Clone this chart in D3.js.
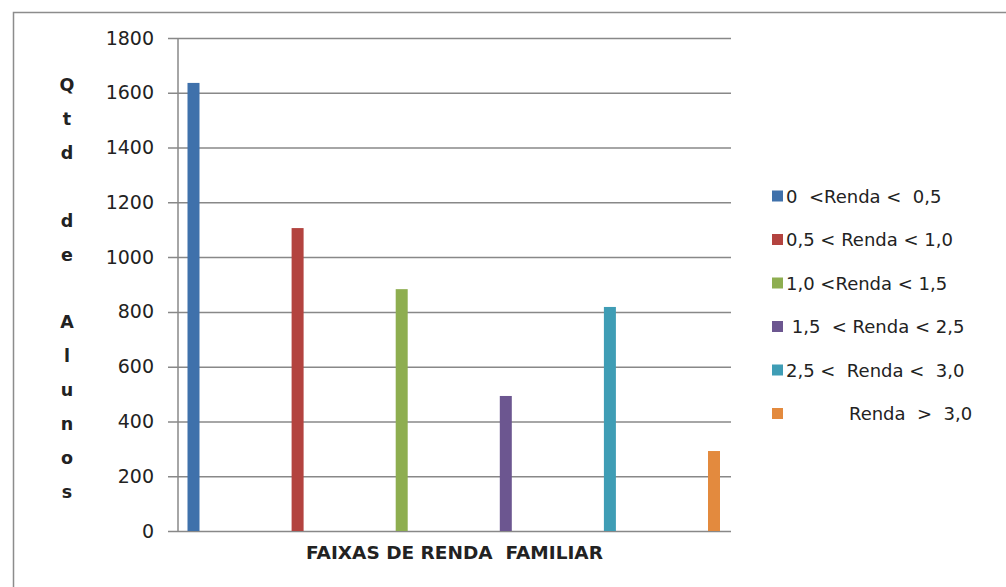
<!DOCTYPE html>
<html lang="pt">
<head>
<meta charset="UTF-8">
<title>Faixas de renda familiar</title>
<script src="https://cdn.jsdelivr.net/npm/d3@7"></script>
<style>
  body { margin: 0; background: #fff; }
  svg text { font-family: "DejaVu Sans", sans-serif; fill: #222; }
</style>
</head>
<body>
<div id="chart"></div>
<script>
// Data
const series = ["0  <Renda <  0,5", "0,5 < Renda < 1,0", "1,0 <Renda < 1,5",
                " 1,5  < Renda < 2,5", "2,5 <  Renda <  3,0", "           Renda  >  3,0"];
const values = [1636, 1106, 883, 493, 818, 292];
const colors = ["#3f71ab", "#b3433f", "#8eae50", "#6c5690", "#3f9db5", "#e38a3e"];
const yTicks = [0, 200, 400, 600, 800, 1000, 1200, 1400, 1600, 1800];
const yTitle = ["Q", "t", "d", "", "d", "e", "", "A", "l", "u", "n", "o", "s"];
const xTitle = "FAIXAS DE RENDA  FAMILIAR";

const W = 1006, H = 587;
const plot = {left: 178, right: 731, top: 38, bottom: 531};

const svg = d3.select("#chart").append("svg")
    .attr("width", W).attr("height", H);

// outer frame (only top and left visible)
svg.append("path")
    .attr("d", `M13.5,${H} V12.5 H${W}`)
    .attr("fill", "none").attr("stroke", "#8c8c8c").attr("stroke-width", 1.5);

const y = d3.scaleLinear().domain([0, 1800]).range([plot.bottom, plot.top]);
const x = d3.scalePoint().domain(series).range([193.5, 714]);
const color = d3.scaleOrdinal().domain(series).range(colors);

// gridlines + y axis
const yAxis = svg.append("g")
    .attr("transform", `translate(${plot.left},0)`)
    .call(d3.axisLeft(y).tickValues(yTicks).tickFormat(d3.format("d"))
      .tickSize(-(plot.right - plot.left)).tickPadding(24));
yAxis.select(".domain").remove();
yAxis.selectAll(".tick line").attr("stroke", "#888").attr("stroke-width", 1.5).attr("x1", -10);
yAxis.selectAll(".tick text").style("font-size", "19px").attr("fill", "#222");

svg.append("line")
    .attr("x1", plot.left).attr("x2", plot.left)
    .attr("y1", plot.top).attr("y2", plot.bottom)
    .attr("stroke", "#888").attr("stroke-width", 1.5);

// bars
svg.selectAll(".bar")
  .data(series)
  .enter().append("rect")
    .attr("class", "bar")
    .attr("x", d => x(d) - 6)
    .attr("width", 12)
    .attr("y", (d, i) => y(values[i]))
    .attr("height", (d, i) => y(0) - y(values[i]))
    .attr("fill", d => color(d));

// x title
svg.append("text")
    .attr("x", (plot.left + plot.right) / 2)
    .attr("y", 559)
    .attr("text-anchor", "middle")
    .style("font-size", "18.5px")
    .style("font-weight", "bold")
    .style("white-space", "pre")
    .text(xTitle);

// y title, one letter per line
svg.append("g").selectAll("text")
  .data(yTitle)
  .enter().append("text")
    .attr("x", 67)
    .attr("y", (d, i) => 91 + i * 33.9)
    .attr("text-anchor", "middle")
    .style("font-size", "17.5px")
    .style("font-weight", "bold")
    .text(d => d);

// legend
const legend = svg.append("g").selectAll("g")
  .data(series)
  .enter().append("g")
    .attr("transform", (d, i) => `translate(772,${196 + i * 43.5})`);
legend.append("rect")
    .attr("x", 0).attr("y", -5.5).attr("width", 11).attr("height", 11)
    .attr("fill", d => color(d));
legend.append("text")
    .attr("x", 14).attr("y", 6.5)
    .style("font-size", "18px")
    .style("white-space", "pre")
    .text(d => d);
</script>
</body>
</html>
